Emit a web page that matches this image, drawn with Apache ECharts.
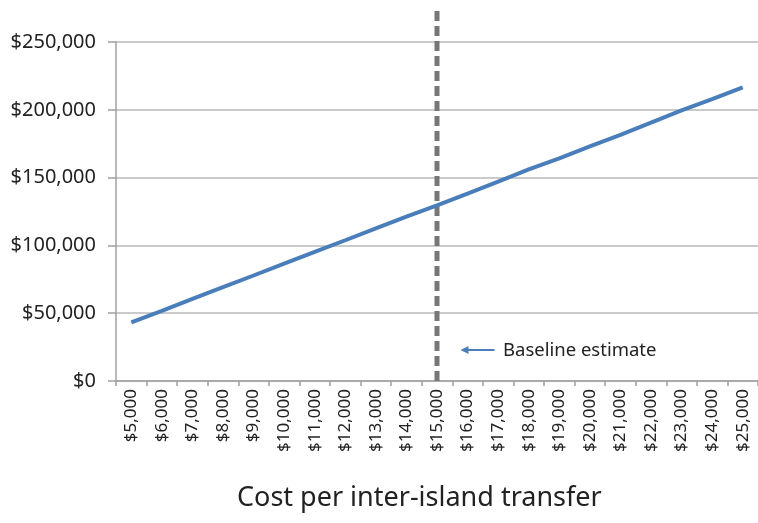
<!DOCTYPE html>
<html>
<head>
<meta charset="utf-8">
<script src="https://cdn.jsdelivr.net/npm/echarts@6/dist/echarts.min.js"></script>
<style>
  html, body { margin: 0; padding: 0; background: #fff; }
  #chart { width: 758px; height: 523px; }
</style>
</head>
<body>
<div id="chart"></div>
<script>
// Transfer cost levels (x categories)
const transferCosts = ['$5,000','$6,000','$7,000','$8,000','$9,000','$10,000','$11,000','$12,000','$13,000','$14,000',
  '$15,000','$16,000','$17,000','$18,000','$19,000','$20,000','$21,000','$22,000','$23,000','$24,000','$25,000'];
// Total cost at each transfer cost level
const totalCost = [43200, 51800, 60500, 69200, 77800, 86500, 95200, 103800, 112500, 121200,
  129500, 138200, 147000, 156000, 164200, 173000, 181500, 190500, 199500, 207800, 216500];
// Baseline estimate marker: category and vertical extent
const baselineCategory = '$15,000';
const baselineSpan = [0, 274000];
const yTicks = { min: 0, max: 250000, interval: 50000 };

const chart = echarts.init(document.getElementById('chart'));
const fmt = v => '$' + v.toLocaleString('en-US');

chart.setOption({
  animation: false,
  textStyle: { fontFamily: 'Noto Sans' },
  title: {
    text: 'Cost per inter-island transfer',
    left: 232, top: 480,
    textStyle: { fontSize: 27, fontWeight: 'normal', color: '#222', fontFamily: 'Noto Sans' }
  },
  grid: { left: 116, right: -2, top: 42, bottom: 142 },
  xAxis: {
    type: 'category',
    data: transferCosts,
    boundaryGap: true,
    axisLine: { lineStyle: { color: '#a0a0a0', width: 1.5 } },
    axisTick: { show: true, length: 5, lineStyle: { color: '#a0a0a0', width: 1.5 } },
    axisLabel: { rotate: 90, fontSize: 17, color: '#222', margin: 8, interval: 0 }
  },
  yAxis: {
    type: 'value',
    min: yTicks.min, max: yTicks.max, interval: yTicks.interval,
    axisLine: { show: true, lineStyle: { color: '#a0a0a0', width: 1.5 } },
    axisTick: { show: true, length: 8, lineStyle: { color: '#a0a0a0', width: 1.5 } },
    splitLine: { lineStyle: { color: '#b8b8b8', width: 1.5 } },
    axisLabel: { formatter: fmt, fontSize: 20, color: '#222', margin: 20 }
  },
  series: [
    {
      type: 'line',
      data: totalCost,
      symbol: 'none',
      lineStyle: { color: '#4a7ebb', width: 4 },
      z: 3
    },
    {
      type: 'line',
      data: baselineSpan.map(v => [baselineCategory, v]),
      symbol: 'none',
      clip: false,
      lineStyle: { color: '#777', width: 5, type: [10, 5] },
      z: 2
    }
  ],
  graphic: [
    {
      type: 'group',
      left: 460, top: 346,
      children: [
        { type: 'line', shape: { x1: 3, y1: 7, x2: 35, y2: 7 }, style: { stroke: '#4a7ebb', lineWidth: 2 } },
        { type: 'polygon', shape: { points: [[9, 3], [1, 7], [9, 11]] }, style: { fill: '#4a7ebb' } }
      ]
    },
    {
      type: 'text', left: 503, top: 341,
      style: { text: 'Baseline estimate', font: '18.5px "Noto Sans"', fill: '#222' }
    }
  ]
});
</script>
</body>
</html>
